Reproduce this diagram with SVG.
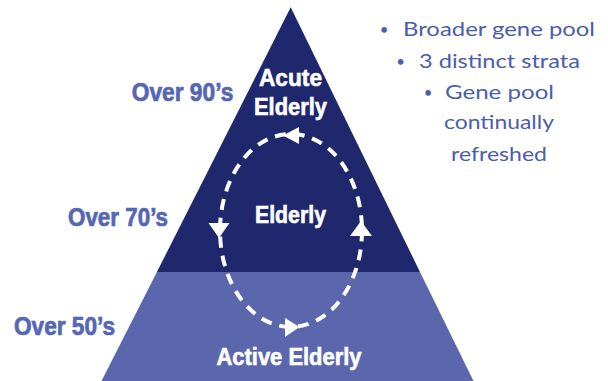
<svg xmlns="http://www.w3.org/2000/svg" width="608" height="381" viewBox="0 0 608 381">
  <defs>
    <style>
      .tier-label { font-family: "Liberation Sans", Arial, sans-serif; font-weight: bold; font-size: 25px; fill: #5566b4; stroke: #5566b4; stroke-width: 0.7; }
      .band-text { font-family: "Liberation Sans", Arial, sans-serif; font-weight: bold; font-size: 24px; fill: #ffffff; stroke: #ffffff; stroke-width: 0.6; text-anchor: middle; }
      .note { font-family: "Lato", "Open Sans", sans-serif; font-size: 20px; fill: #4c5cae; }
      .bullet { font-family: "Lato", "Open Sans", sans-serif; font-size: 15px; fill: #4c5cae; text-anchor: middle; }
      .loop { fill: none; stroke: #ffffff; stroke-width: 4; stroke-dasharray: 11 8; }
      .head { fill: #ffffff; }
    </style>
  </defs>

  <rect width="608" height="381" fill="#ffffff"/>

  <!-- pyramid strata -->
  <g id="acute-elderly-tier">
    <polygon points="290.7,7.3 156.9,272 420,272" fill="#1f286d"/>
  </g>
  <g id="active-elderly-tier">
    <polygon points="156.9,272 420,272 473.5,381 101.5,381" fill="#5b67ad"/>
  </g>

  <!-- circulation loop -->
  <g id="connectors">
    <ellipse class="loop" cx="291" cy="230.5" rx="71" ry="96.5"/>
    <polygon class="head" points="283,135.5 299,127 299,144"/>
    <polygon class="head" points="219,238 208.5,223 229.5,223"/>
    <polygon class="head" points="361,221 350,236 372,236"/>
    <polygon class="head" points="299.5,327 285,318 285,337"/>
  </g>

  <!-- labels inside the pyramid -->
  <g id="label-acute">
    <text class="band-text" x="290.5" y="86" textLength="63" lengthAdjust="spacingAndGlyphs">Acute</text>
    <text class="band-text" x="290.5" y="115" textLength="73" lengthAdjust="spacingAndGlyphs">Elderly</text>
  </g>
  <g id="label-elderly">
    <text class="band-text" x="290.5" y="223" textLength="71" lengthAdjust="spacingAndGlyphs">Elderly</text>
  </g>
  <g id="label-active">
    <text class="band-text" x="289" y="365" textLength="145" lengthAdjust="spacingAndGlyphs">Active Elderly</text>
  </g>

  <!-- age labels -->
  <g id="age-90">
    <text class="tier-label" x="131.7" y="100.7" textLength="101.6" lengthAdjust="spacingAndGlyphs">Over 90’s</text>
  </g>
  <g id="age-70">
    <text class="tier-label" x="68" y="226" textLength="100" lengthAdjust="spacingAndGlyphs">Over 70’s</text>
  </g>
  <g id="age-50">
    <text class="tier-label" x="14" y="335" textLength="101" lengthAdjust="spacingAndGlyphs">Over 50’s</text>
  </g>

  <!-- notes -->
  <g id="notes">
    <text class="bullet" x="384" y="35">•</text>
    <text class="note" x="403" y="36" textLength="192" lengthAdjust="spacingAndGlyphs">Broader gene pool</text>
    <text class="bullet" x="400.7" y="67">•</text>
    <text class="note" x="419" y="68" textLength="161" lengthAdjust="spacingAndGlyphs">3 distinct strata</text>
    <text class="bullet" x="428" y="98">•</text>
    <text class="note" x="445" y="99" textLength="109" lengthAdjust="spacingAndGlyphs">Gene pool</text>
    <text class="note" x="444" y="129" textLength="110" lengthAdjust="spacingAndGlyphs">continually</text>
    <text class="note" x="451" y="161" textLength="96" lengthAdjust="spacingAndGlyphs">refreshed</text>
  </g>
</svg>
